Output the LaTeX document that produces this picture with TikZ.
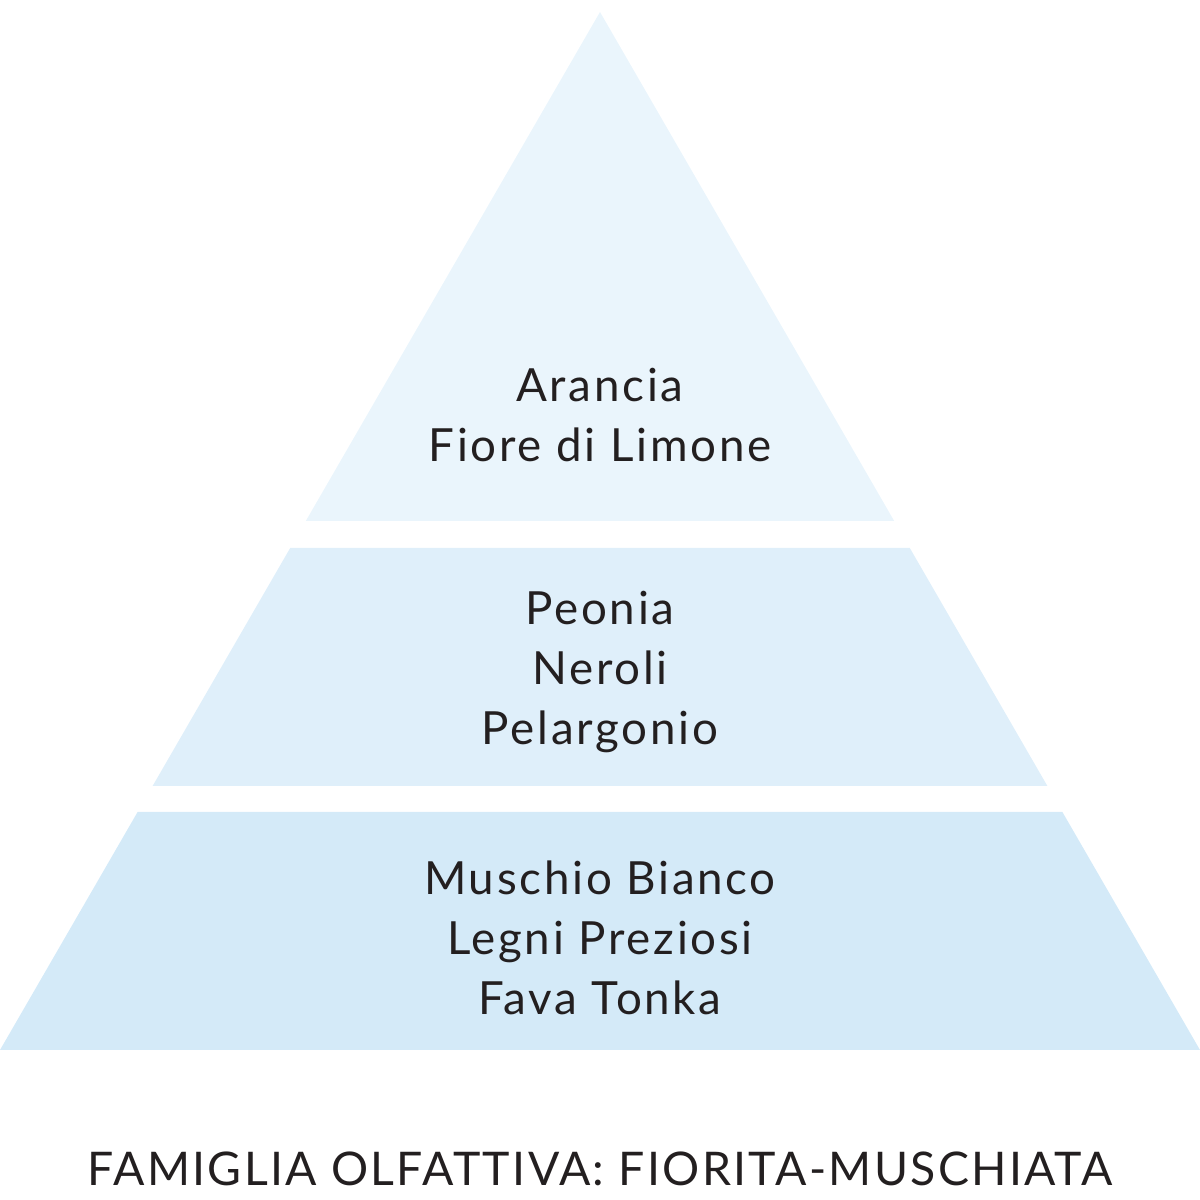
\documentclass[tikz,border=0pt]{standalone}
\usepackage{fontspec}
\setmainfont{Lato}
\newfontfamily\notesfont[LetterSpace=6]{Lato}
\newfontfamily\familyfont[LetterSpace=5]{Lato}
\usepackage{tikz}
\usetikzlibrary{positioning}
\definecolor{tiertop}{HTML}{EAF5FC}
\definecolor{tiermid}{HTML}{DFEFFA}
\definecolor{tierbase}{HTML}{D4EAF8}
\definecolor{ink}{HTML}{231F20}

\begin{document}
\begin{tikzpicture}[
  notes/.style={align=center, text=ink, font=\notesfont\fontsize{13}{17}\selectfont, inner sep=0pt},
  family/.style={text=ink, font=\familyfont\fontsize{13.2}{16}\selectfont, inner sep=0pt}
]
\useasboundingbox (0,0) rectangle (12,12);
% pyramid tiers
\fill[tiertop] (6,11.88) -- (8.942,6.79) -- (3.058,6.79) -- cycle;
\fill[tiermid] (2.902,6.52) -- (9.098,6.52) -- (10.474,4.14) -- (1.526,4.14) -- cycle;
\fill[tierbase] (1.376,3.88) -- (10.624,3.88) -- (12,1.50) -- (0,1.50) -- cycle;
% notes
\node[notes] (head) at (6,7.85) {Arancia\\Fiore di Limone};
\node[notes] (heart) at (6,5.28) {Peonia\\Neroli\\Pelargonio};
\node[notes] (base) at (6,2.62) {Muschio Bianco\\Legni Preziosi\\Fava Tonka};
\node[family] (fam) at (6,0.31) {FAMIGLIA OLFATTIVA: FIORITA-MUSCHIATA};
\end{tikzpicture}
\end{document}
